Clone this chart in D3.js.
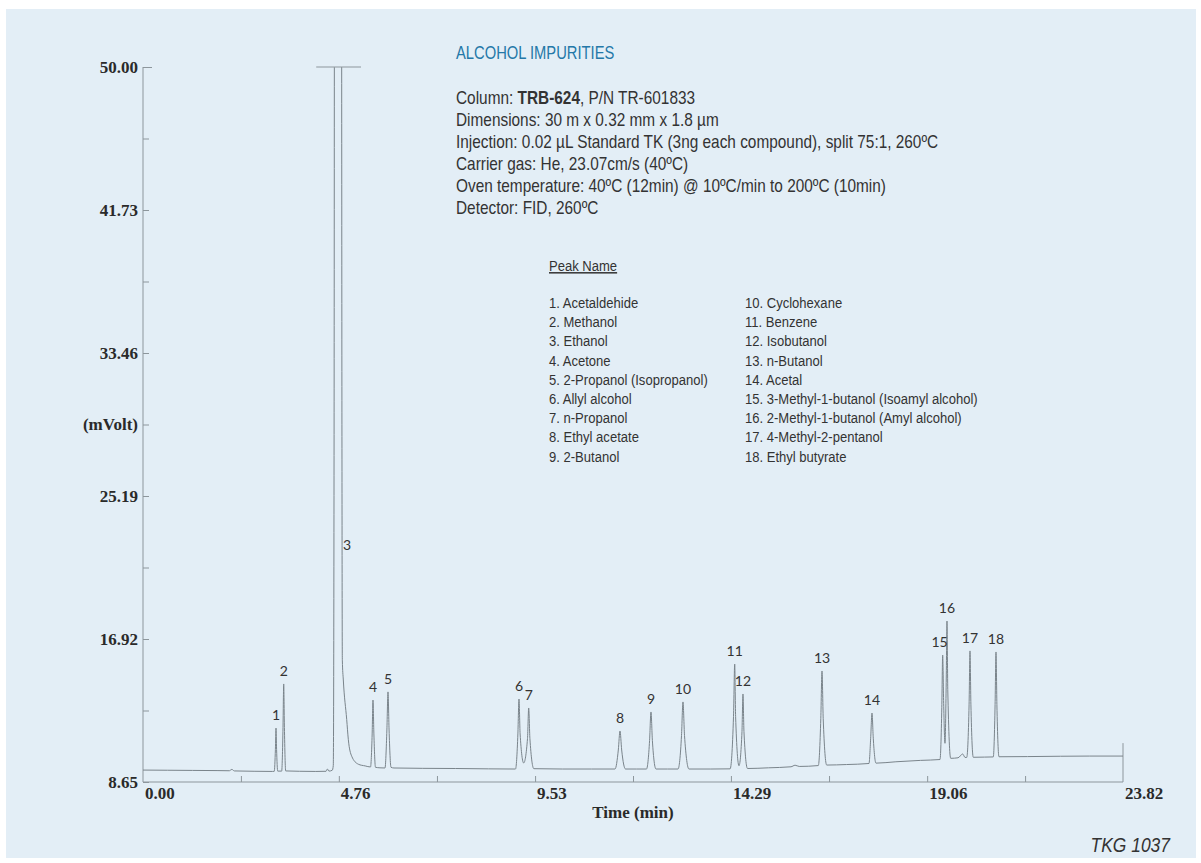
<!DOCTYPE html>
<html><head><meta charset="utf-8">
<script src="https://cdn.jsdelivr.net/npm/d3@7"></script>
<style>
html,body{margin:0;padding:0;background:#ffffff;}
svg{display:block;}
</style></head>
<body>
<svg id="chart" width="1201" height="863"></svg>
<script>
// ---------- DATA ----------
const yTickValues = [8.65, 16.92, 25.19, 33.46, 41.73, 50.00];
const yTickLabels = ["8.65", "16.92", "25.19", "33.46", "41.73", "50.00"];
const xTickValues = [0.00, 4.76, 9.53, 14.29, 19.06, 23.82];
const xTickLabels = ["0.00", "4.76", "9.53", "14.29", "19.06", "23.82"];
const xDomain = [0, 23.82];
const yDomain = [8.65, 50.00];

const trace = [
 [0.00,9.34],[0.60,9.33],[1.20,9.32],[1.80,9.31],[2.10,9.30],[2.16,9.38],[2.22,9.29],[2.70,9.27],[3.15,9.26],
 [3.191,9.27],[3.218,10.53],[3.233,11.77],[3.247,10.53],[3.274,9.28],
 [3.371,9.28],[3.403,11.80],[3.420,14.32],[3.437,11.80],[3.468,9.29],
 [3.80,9.27],[4.20,9.26],[4.45,9.27],[4.484,9.40],[4.52,9.28],[4.60,9.33],
 [4.625,9.60],[4.645,30],[4.655,60],[4.74,95],[4.825,60],[4.835,30],[4.845,15.7],[4.869,14.55],[4.951,12.27],[4.99,11.12],[5.073,10.14],[5.233,9.68],[5.40,9.58],[5.53,9.52],
 [5.570,11.43],[5.590,13.39],[5.612,11.43],[5.651,9.50],[5.76,9.47],
 [5.882,9.46],[5.928,11.66],[5.955,13.86],[5.981,11.66],[6.028,9.50],[6.10,9.46],
 [6.8,9.44],[7.6,9.43],[8.4,9.41],[9.054,9.40],
 [9.112,11.43],[9.139,13.45],[9.166,11.43],[9.253,9.75],
 [9.346,11.17],[9.375,12.93],[9.404,11.17],[9.50,9.42],
 [10.2,9.40],[10.9,9.40],[11.473,9.40],
 [11.553,10.50],[11.594,11.60],[11.635,10.50],[11.728,9.40],
 [12.0,9.40],[12.238,9.40],
 [12.313,11.05],[12.347,12.70],[12.381,11.05],[12.469,9.40],
 [12.75,9.40],[13.004,9.40],
 [13.089,11.34],[13.125,13.28],[13.162,11.34],[13.271,9.40],
 [13.8,9.40],[14.270,9.41],
 [14.353,12.44],[14.382,15.47],[14.404,12.44],[14.486,9.59],
 [14.559,11.57],[14.583,13.74],[14.607,11.57],[14.693,9.43],
 [15.2,9.47],[15.75,9.53],[15.85,9.62],[15.95,9.55],[16.414,9.60],
 [16.475,12.33],[16.504,15.07],[16.533,12.33],[16.618,9.63],
 [17.1,9.66],[17.646,9.72],
 [17.687,11.18],[17.719,12.64],[17.750,11.18],[17.816,9.74],
 [18.3,9.82],[18.9,9.90],[19.372,9.95],
 [19.416,12.97],[19.437,15.99],[19.461,13.2],[19.493,10.89],
 [19.523,14.4],[19.542,17.96],[19.561,13.99],[19.632,10.02],
 [19.81,10.05],[19.924,10.27],[19.98,10.07],[20.021,10.07],
 [20.079,13.15],[20.101,16.23],[20.123,13.15],[20.181,10.08],
 [20.45,10.09],[20.667,10.10],
 [20.711,13.13],[20.733,16.17],[20.755,13.13],[20.806,10.11],
 [21.5,10.12],[22.3,10.14],[23.0,10.15],[23.82,10.15]
];

// peak numbers, label times (min) and label anchor signal (mVolt)
const peakIds   = [1,2,3,4,5,6,7,8,9,10,11,12,13,14,15,16,17,18];
const peakTimes = [3.233,3.420,4.96,5.590,5.955,9.139,9.375,11.594,12.347,13.125,14.382,14.583,16.504,17.719,19.36,19.542,20.101,20.733];
const peakApex  = [11.77,14.32,21.60,13.39,13.86,13.45,12.93,11.60,12.70,13.28,15.47,13.74,15.07,12.64,15.99,17.96,16.23,16.17];
const peakNames = ["Acetaldehide","Methanol","Ethanol","Acetone","2-Propanol (Isopropanol)","Allyl alcohol","n-Propanol","Ethyl acetate","2-Butanol",
  "Cyclohexane","Benzene","Isobutanol","n-Butanol","Acetal","3-Methyl-1-butanol (Isoamyl alcohol)","2-Methyl-1-butanol (Amyl alcohol)","4-Methyl-2-pentanol","Ethyl butyrate"];

// off-scale bar over the ethanol peak (time range at 50.00 mVolt)
const offScale = [4.21, 5.30];
const endMarker = [8.65, 10.9];

const title = "ALCOHOL IMPURITIES";
const infoLines = [
  [{t:"Column: "},{t:"TRB-624",b:true},{t:", P/N TR-601833"}],
  [{t:"Dimensions: 30 m x 0.32 mm x 1.8 µm"}],
  [{t:"Injection: 0.02 µL Standard TK (3ng each compound), split 75:1, 260ºC"}],
  [{t:"Carrier gas: He, 23.07cm/s (40ºC)"}],
  [{t:"Oven temperature: 40ºC (12min) @ 10ºC/min to 200ºC (10min)"}],
  [{t:"Detector: FID, 260ºC"}]
];
const legendTitle = "Peak Name";
const xTitle = "Time (min)";
const yTitle = "(mVolt)";
const footnote = "TKG 1037";

// ---------- DRAW ----------
const svg = d3.select("#chart");
const axisColor = "#8d969c";
const traceColor = "#7a848b";
const textDark = "#2a2a2a";
const serif = "'Liberation Serif','Times New Roman',serif";
const sans = "'Liberation Sans',Arial,sans-serif";

svg.append("rect").attr("x",6).attr("y",9).attr("width",1190).attr("height",849).attr("fill","#e3eef6");

const x = d3.scaleLinear().domain(xDomain).range([143,1123]);
const y = d3.scaleLinear().domain(yDomain).range([782,67]);

svg.append("clipPath").attr("id","plotclip").append("rect")
  .attr("x",140).attr("y",y(50)).attr("width",990).attr("height",782-y(50));

// y axis
const yMinor = d3.pairs(yTickValues).map(p=>(p[0]+p[1])/2);
const yAxis = d3.axisRight(y).tickValues(yTickValues.concat(yMinor)).tickSize(6).tickFormat("");
const gy = svg.append("g").attr("transform","translate(143,0)").call(yAxis);
gy.select(".domain").attr("stroke",axisColor).attr("d",`M0,${y(50)}V${y(8.65)}`);
gy.selectAll(".tick line").attr("stroke",axisColor).attr("stroke-width",1);
gy.selectAll(".tick").filter(d=>d===50).select("line").attr("x2",9);

svg.append("g").selectAll("text").data(yTickValues).join("text")
  .attr("x",138).attr("y",d=>y(d)).attr("dy","0.34em")
  .attr("text-anchor","end").attr("font-family",serif).attr("font-weight","bold")
  .attr("font-size",17).attr("fill",textDark)
  .text((d,i)=>yTickLabels[i]);
svg.append("text").attr("x",138).attr("y",y(yMinor[2])).attr("dy","0.34em")
  .attr("text-anchor","end").attr("font-family",serif).attr("font-weight","bold")
  .attr("font-size",17).attr("fill",textDark).text(yTitle);

// x axis
const xMinor = d3.pairs(xTickValues).map(p=>(p[0]+p[1])/2);
const xAxis = d3.axisTop(x).tickValues(xTickValues.slice(1,-1).concat(xMinor)).tickSize(6).tickFormat("");
const gx = svg.append("g").attr("transform","translate(0,782)").call(xAxis);
gx.select(".domain").attr("stroke",axisColor).attr("d",`M${x(0)},0H${x(23.82)}`);
gx.selectAll(".tick line").attr("stroke",axisColor);

svg.append("g").selectAll("text").data(xTickValues).join("text")
  .attr("x",d=>x(d)+2).attr("y",799)
  .attr("font-family",serif).attr("font-weight","bold")
  .attr("font-size",17).attr("fill",textDark)
  .text((d,i)=>xTickLabels[i]);
svg.append("text").attr("x",633).attr("y",818).attr("text-anchor","middle")
  .attr("font-family",serif).attr("font-weight","bold").attr("font-size",17).attr("fill",textDark)
  .text(xTitle);

// end marker
svg.append("line").attr("x1",x(23.82)).attr("x2",x(23.82)).attr("y1",y(endMarker[0])).attr("y2",y(endMarker[1]))
  .attr("stroke",axisColor);

// trace
const line = d3.line().x(d=>x(d[0])).y(d=>y(d[1])).curve(d3.curveMonotoneX);
svg.append("path").datum(trace).attr("clip-path","url(#plotclip)")
  .attr("d",line).attr("fill","none").attr("stroke",traceColor).attr("stroke-width",1);

// off-scale bar
svg.append("line").attr("x1",x(offScale[0])).attr("x2",x(offScale[1])).attr("y1",y(50)).attr("y2",y(50))
  .attr("stroke",axisColor).attr("stroke-width",1.2);

// peak labels
svg.append("g").selectAll("text").data(peakIds).join("text")
  .attr("x",(d,i)=>x(peakTimes[i]))
  .attr("y",(d,i)=>y(peakApex[i])-8)
  .attr("text-anchor","middle").attr("font-family","Lato,'Open Sans',sans-serif")
  .attr("font-size",14).attr("fill","#333")
  .text(d=>d);

// condensed text helper
function ctext(parent, px, py, size, sx){
  return parent.append("text").attr("transform",`translate(${px},${py}) scale(${sx},1)`)
    .attr("font-family",sans).attr("font-size",size);
}

// title & info
ctext(svg,456,59,18,0.82).attr("fill","#2478a8").text(title);
infoLines.forEach((ln,i)=>{
  const t = ctext(svg,456,104+i*22,18,0.855).attr("fill","#333");
  ln.forEach(s=>t.append("tspan").attr("font-weight",s.b?"bold":null).text(s.t));
});

// legend
ctext(svg,549,271,15,0.87).attr("fill","#333").attr("text-decoration","underline").text(legendTitle);
peakIds.forEach((d,i)=>{
  ctext(svg, i<9 ? 549 : 745, 308 + (i%9)*19.2, 15, 0.87).attr("fill","#333")
    .text(`${d}. ${peakNames[i]}`);
});

// footnote
ctext(svg,1170,852,21,0.83).attr("text-anchor","end").attr("font-style","italic").attr("fill","#333")
  .text(footnote);
</script>
</body></html>
